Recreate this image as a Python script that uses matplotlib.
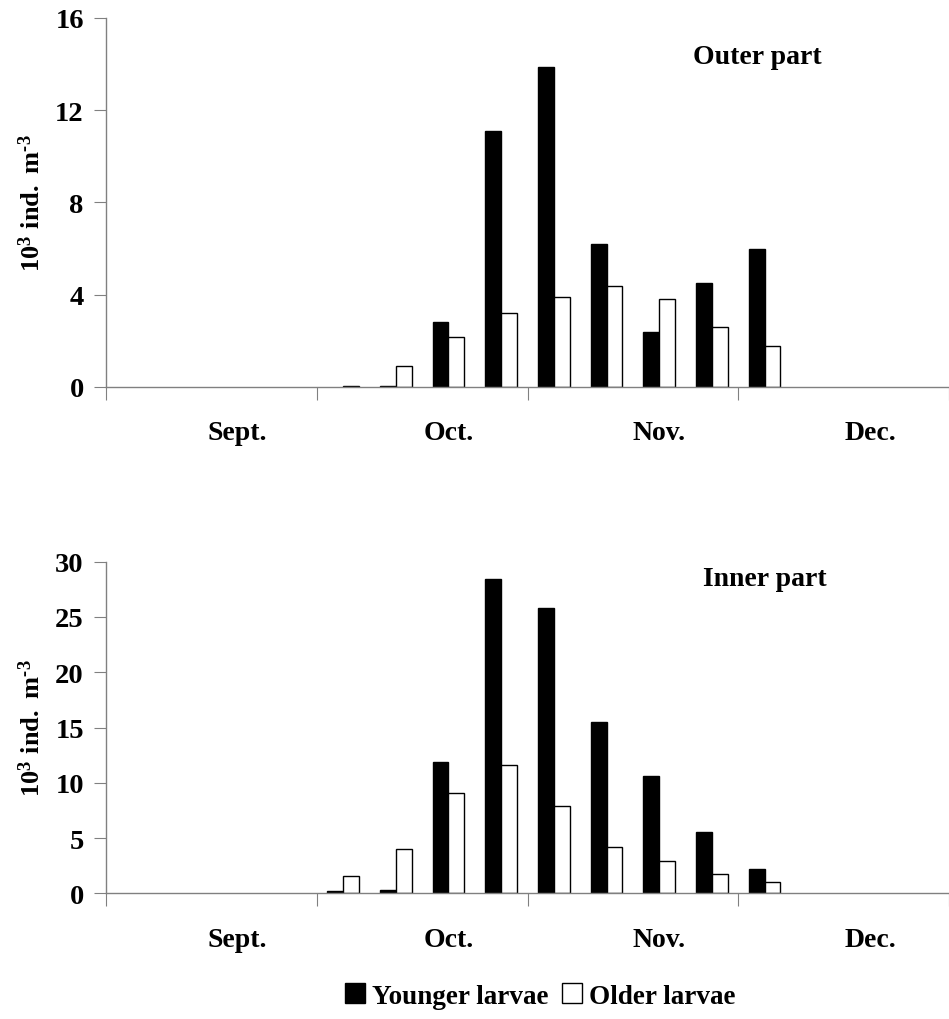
import matplotlib
matplotlib.use("Agg")
import matplotlib.pyplot as plt
import numpy as np

plt.rcParams['font.family'] = ['Liberation Serif', 'DejaVu Serif']
plt.rcParams['font.weight'] = 'bold'
plt.rcParams['mathtext.fontset'] = 'custom'
plt.rcParams['mathtext.rm'] = 'Liberation Serif:bold'
plt.rcParams['mathtext.bf'] = 'Liberation Serif:bold'
plt.rcParams['mathtext.it'] = 'Liberation Serif:bold'

# 16 sampling slots (4 per month); months labelled at slots 2, 6, 10, 14
months = ["Sept.", "Oct.", "Nov.", "Dec."]
n_slots = 16

outer_younger = [0, 0, 0, 0, 0.0, 0.02, 2.79, 11.08, 13.88, 6.21, 2.36, 4.51, 5.96, 0, 0, 0]
outer_older   = [0, 0, 0, 0, 0.05, 0.89, 2.14, 3.20, 3.89, 4.38, 3.79, 2.58, 1.77, 0, 0, 0]
inner_younger = [0, 0, 0, 0, 0.18, 0.30, 11.88, 28.47, 25.79, 15.53, 10.59, 5.57, 2.23, 0, 0, 0]
inner_older   = [0, 0, 0, 0, 1.56, 4.04, 9.05, 11.64, 7.93, 4.22, 2.95, 1.77, 0.99, 0, 0, 0]

outer_yticks = [0, 4, 8, 12, 16]
inner_yticks = [0, 5, 10, 15, 20, 25, 30]

W, H = 949, 1020
fig = plt.figure(figsize=(W / 100, H / 100), dpi=100)

left = 106 / W
right_px = 949
ax_w = (right_px - 106) / W
slot_px = 53.25
xmax = (right_px - 106) / slot_px - 0.5

ax1 = fig.add_axes([left, 1 - 387.7 / H, ax_w, (387.7 - 19) / H])
ax2 = fig.add_axes([left, 1 - 894.3 / H, ax_w, (894.3 - 562.7) / H])

gray = '#808080'
x = np.arange(n_slots)
bw = 0.3

def draw(ax, young, old, yticks, title, title_xy):
    ax.bar(x - bw / 2, [v if v > 0 else np.nan for v in young], width=bw,
           color='black', edgecolor='black', linewidth=1, label='Younger larvae')
    ax.bar(x + bw / 2, [v if v > 0 else np.nan for v in old], width=bw,
           color='white', edgecolor='black', linewidth=1, label='Older larvae')
    ax.set_xlim(-0.5, xmax)
    ax.set_ylim(yticks[0], yticks[-1])
    ax.set_yticks(yticks)
    ax.set_yticklabels([str(t) for t in yticks], fontsize=20.5, fontweight='bold')
    ax.set_xticks([-0.5, 3.5, 7.5, 11.5, 15.5])
    ax.set_xticklabels([])
    ax.set_xticks([2, 6, 10, 14], minor=True)
    ax.set_xticklabels(months, minor=True, fontsize=20, fontweight='bold')
    ax.tick_params(axis='x', which='minor', length=0, pad=24)
    ax.tick_params(axis='x', which='major', length=9, color=gray, direction='out')
    ax.tick_params(axis='y', length=9, color=gray, direction='out', pad=7)
    for s in ['top', 'right']:
        ax.spines[s].set_visible(False)
    for s in ['left', 'bottom']:
        ax.spines[s].set_color(gray)
        ax.spines[s].set_linewidth(1)
    ax.set_ylabel(r'$\mathbf{10^{3}\ ind.\ m^{\text{-}3}}$', fontsize=19)
    ax.text(title_xy[0], title_xy[1], title, transform=fig.transFigure,
            ha='center', va='center', fontsize=20, fontweight='bold')

draw(ax1, outer_younger, outer_older, outer_yticks, 'Outer part', (757 / W, 1 - 57 / H))
draw(ax2, inner_younger, inner_older, inner_yticks, 'Inner part', (765 / W, 1 - 580 / H))

for ax, (top, bot) in [(ax1, (19, 387.7)), (ax2, (562.7, 894.3))]:
    ax.yaxis.set_label_coords(45 / W, 1 - (top + bot) / 2 / H, transform=fig.transFigure)

handles, labels = ax1.get_legend_handles_labels()
fig.legend(handles, labels, loc='center', bbox_to_anchor=(540 / W, 1 - 997 / H),
           ncol=2, frameon=False, handlelength=0.75, handleheight=0.75,
           handletextpad=0.25, columnspacing=0.5, borderpad=0,
           prop={'family': 'Liberation Serif', 'weight': 'bold', 'size': 19.5})

fig.savefig('out.png', dpi=100)
